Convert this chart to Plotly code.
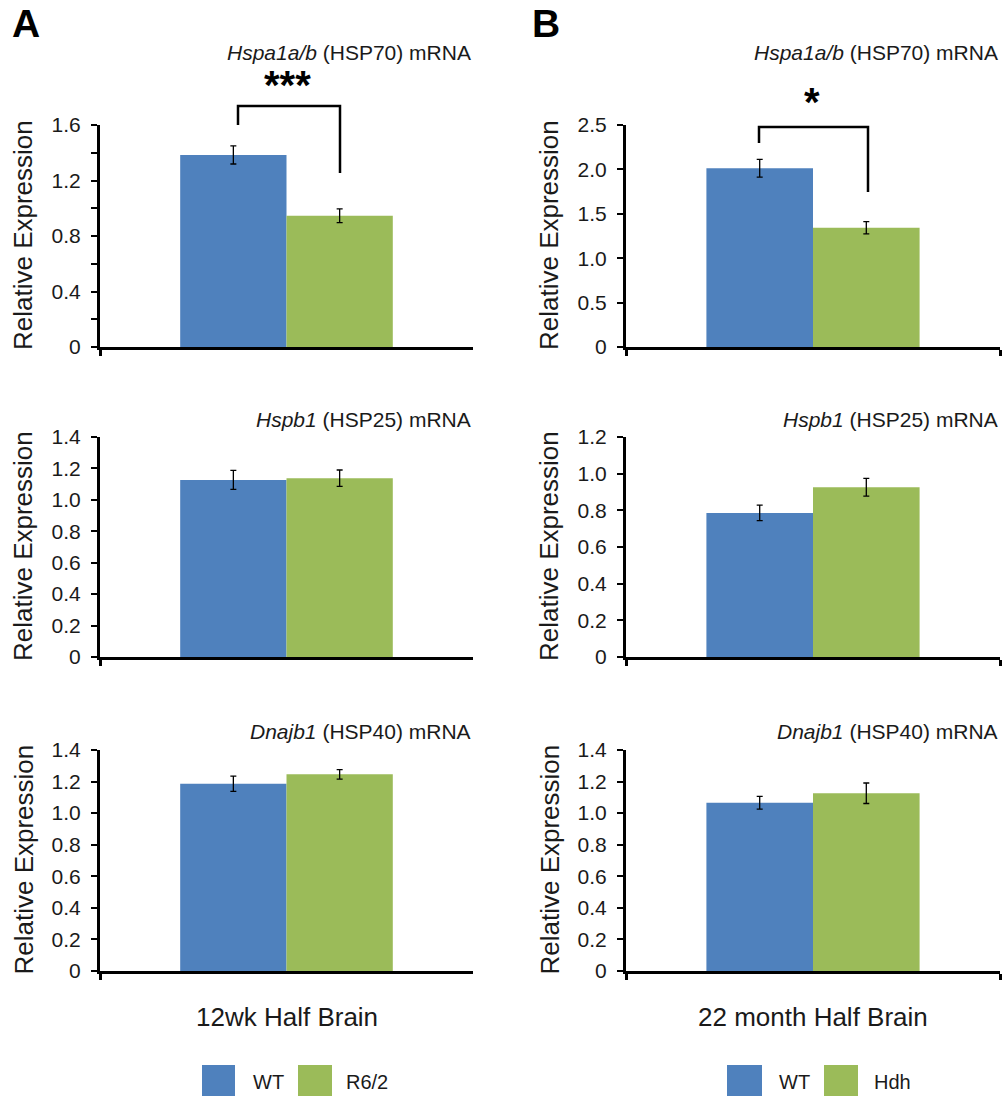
import plotly.graph_objects as go

W, H = 1002, 1096

# ---------------- data ----------------
groups = ["12wk Half Brain", "22 month Half Brain"]
panel_letters = ["A", "B"]
series_a = ["WT", "R6/2"]
series_b = ["WT", "Hdh"]
gene_italic = ["Hspa1a/b", "Hspb1", "Dnajb1"]
gene_rest = ["(HSP70) mRNA", "(HSP25) mRNA", "(HSP40) mRNA"]

wt_a = [1.384, 1.127, 1.186]
wt_a_err = [0.065, 0.060, 0.048]
r62_a = [0.946, 1.138, 1.246]
r62_a_err = [0.050, 0.052, 0.030]

wt_b = [2.012, 0.786, 1.066]
wt_b_err = [0.100, 0.042, 0.040]
hdh_b = [1.343, 0.926, 1.126]
hdh_b_err = [0.070, 0.048, 0.065]

ymax_a = [1.6, 1.4, 1.4]
ymax_b = [2.5, 1.2, 1.4]
major_a = [0.4, 0.2, 0.2]
major_b = [0.5, 0.2, 0.2]
minor_a = [0.2, 0.2, 0.2]
minor_b = [0.5, 0.2, 0.2]
sig_labels = ["***", "*"]

BLUE = "#4F81BD"
GREEN = "#9BBB59"
FONT = "Liberation Sans, Arial, sans-serif"

# ---------------- layout geometry (pixels) ----------------
col_px = [(100, 473), (626, 1000)]
row_px = [(125, 347), (437, 657), (750, 971)]
title_px = [52, 419, 731]


def px_x(p):
    return p / W


def px_y(p):
    return 1 - p / H


fig = go.Figure()

values = [(wt_a, wt_a_err, r62_a, r62_a_err, series_a, ymax_a, major_a, minor_a),
          (wt_b, wt_b_err, hdh_b, hdh_b_err, series_b, ymax_b, major_b, minor_b)]

annotations = []
shapes = []

for c in range(2):
    v1, e1, v2, e2, names, ymaxes, majors, minors = values[c]
    for r in range(3):
        idx = c * 3 + r + 1
        xa = "x" if idx == 1 else f"x{idx}"
        ya = "y" if idx == 1 else f"y{idx}"
        xl = "xaxis" if idx == 1 else f"xaxis{idx}"
        yl = "yaxis" if idx == 1 else f"yaxis{idx}"
        for val, err, nm, col in [(v1[r], e1[r], names[0], BLUE), (v2[r], e2[r], names[1], GREEN)]:
            fig.add_trace(go.Bar(
                x=[groups[c]], y=[val], name=nm, xaxis=xa, yaxis=ya,
                marker=dict(color=col, line=dict(width=0)),
                error_y=dict(type="data", array=[err], color="black", thickness=1.3, width=3),
                showlegend=False, offsetgroup=nm,
            ))
        ymax = ymaxes[r]
        n = int(round(ymax / majors[r]))
        tv = [round(i * majors[r], 3) for i in range(n + 1)]
        tt = ["0" if t == 0 else f"{t:.1f}" for t in tv]
        x0, x1 = col_px[c]
        y0, y1 = row_px[r]
        fig.update_layout({
            xl: dict(domain=[px_x(x0), px_x(x1)], anchor=ya, type="category",
                     showline=True, linecolor="black", linewidth=3,
                     ticks="outside", tickson="boundaries", ticklen=6, tickwidth=3,
                     tickcolor="black", showticklabels=False, showgrid=False,
                     zeroline=False, fixedrange=True, automargin=False),
            yl: dict(domain=[px_y(y1), px_y(y0)], anchor=xa, range=[0, ymax],
                     showline=True, linecolor="black", linewidth=3,
                     ticks="outside", ticklen=6, tickwidth=2, tickcolor="black",
                     tickvals=tv, ticktext=tt, ticklabelstandoff=6,
                     tickfont=dict(family=FONT, size=21, color="#1a1a1a"),
                     minor=dict(dtick=minors[r], tick0=0, ticks="outside", ticklen=6,
                                tickwidth=2, tickcolor="black", showgrid=False),
                     showgrid=False, zeroline=False, fixedrange=True, automargin=False),
        })
        annotations.append(dict(
            text=f"<i>{gene_italic[r]}</i> {gene_rest[r]}",
            xref="paper", yref="paper", x=px_x(x1), y=px_y(title_px[r]),
            xanchor="right", yanchor="middle", showarrow=False,
            font=dict(family=FONT, size=21, color="#1a1a1a")))
        annotations.append(dict(
            text="Relative Expression", textangle=-90,
            xref="paper", yref="paper", x=px_x(x0 - 77), y=px_y((y0 + y1) / 2 - 1),
            xanchor="center", yanchor="middle", showarrow=False,
            font=dict(family=FONT, size=26, color="#1a1a1a")))
    x0, x1 = col_px[c]
    annotations.append(dict(
        text=groups[c], xref="paper", yref="paper", x=px_x((x0 + x1) / 2), y=px_y(1017),
        xanchor="center", yanchor="middle", showarrow=False,
        font=dict(family=FONT, size=26, color="#1a1a1a")))
    annotations.append(dict(
        text=f"<b>{panel_letters[c]}</b>", xref="paper", yref="paper",
        x=px_x([26, 546][c]), y=px_y(24), xanchor="center", yanchor="middle",
        showarrow=False, font=dict(family=FONT, size=39, color="black")))

# significance brackets (pixel geometry)
brackets = [
    dict(xl=238, xr=340, ytop=106, yl=125, yr=173, sx=287, sy=85),
    dict(xl=759, xr=868, ytop=127, yl=143, yr=192, sx=812, sy=102),
]
for b, lab in zip(brackets, sig_labels):
    path = (f"M {px_x(b['xl'])},{px_y(b['yl'])} L {px_x(b['xl'])},{px_y(b['ytop'])} "
            f"L {px_x(b['xr'])},{px_y(b['ytop'])} L {px_x(b['xr'])},{px_y(b['yr'])}")
    shapes.append(dict(type="path", path=path, xref="paper", yref="paper",
                       line=dict(color="black", width=2.5)))
    annotations.append(dict(text=f"<b>{lab}</b>", xref="paper", yref="paper",
                            x=px_x(b["sx"]), y=px_y(b["sy"]), xanchor="center", yanchor="middle",
                            showarrow=False, font=dict(family=FONT, size=40, color="black")))

# legends (swatches + labels)
legend_items = [
    (202, 235, BLUE, series_a[0], 268), (298, 332, GREEN, series_a[1], 367),
    (727, 762, BLUE, series_b[0], 794), (824, 858, GREEN, series_b[1], 892),
]
for lx0, lx1, col, lab, tx in legend_items:
    shapes.append(dict(type="rect", xref="paper", yref="paper",
                       x0=px_x(lx0), x1=px_x(lx1), y0=px_y(1098), y1=px_y(1065),
                       fillcolor=col, line=dict(width=0)))
    annotations.append(dict(text=lab, xref="paper", yref="paper", x=px_x(tx), y=px_y(1082),
                            xanchor="center", yanchor="middle", showarrow=False,
                            font=dict(family=FONT, size=20, color="#1a1a1a")))

fig.update_layout(
    width=W, height=H, margin=dict(l=0, r=0, t=0, b=0, pad=0, autoexpand=False),
    paper_bgcolor="white", plot_bgcolor="white",
    barmode="group", bargap=0.43, bargroupgap=0,
    showlegend=False, annotations=annotations, shapes=shapes,
    font=dict(family=FONT),
)

fig.write_html("out.html", config={"displayModeBar": False})
